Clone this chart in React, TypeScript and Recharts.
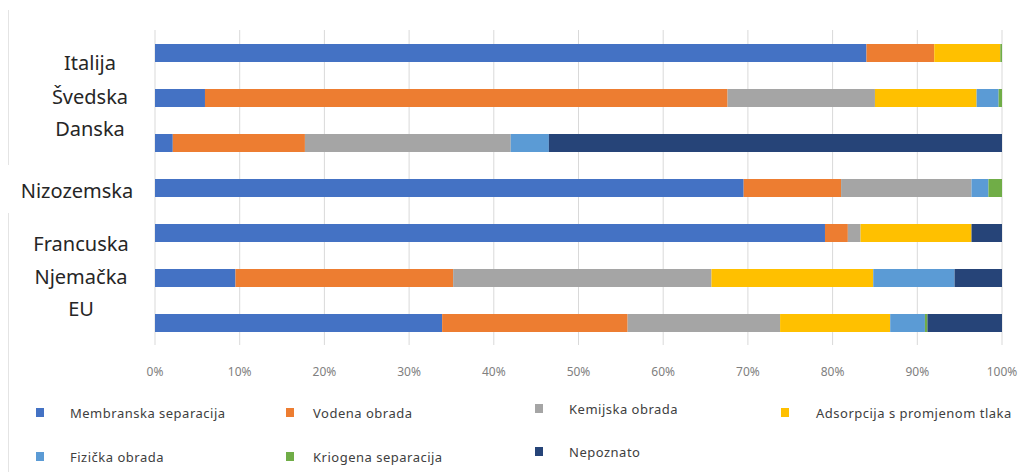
import { BarChart, Bar, XAxis, YAxis, CartesianGrid } from "recharts";

const countries = ["Italija", "Švedska", "Danska", "Nizozemska", "Francuska", "Njemačka", "EU"];

const membranska = [84.0, 5.9, 2.1, 69.5, 79.1, 9.5, 33.9];
const vodena = [8.0, 61.7, 15.6, 11.5, 2.7, 25.7, 21.9];
const kemijska = [0, 17.4, 24.3, 15.4, 1.5, 30.5, 18.0];
const adsorpcija = [7.8, 12.0, 0, 0, 13.1, 19.1, 13.0];
const fizicka = [0, 2.6, 4.5, 2.0, 0, 9.6, 4.1];
const kriogena = [0.2, 0.4, 0, 1.6, 0, 0, 0.3];
const nepoznato = [0, 0, 53.5, 0, 3.6, 5.6, 8.8];

const xTicks = [0, 10, 20, 30, 40, 50, 60, 70, 80, 90, 100];

const series = [
  { key: "membranska", name: "Membranska separacija", values: membranska, color: "#4472C4" },
  { key: "vodena", name: "Vodena obrada", values: vodena, color: "#ED7D31" },
  { key: "kemijska", name: "Kemijska obrada", values: kemijska, color: "#A5A5A5" },
  { key: "adsorpcija", name: "Adsorpcija s promjenom tlaka", values: adsorpcija, color: "#FFC000" },
  { key: "fizicka", name: "Fizička obrada", values: fizicka, color: "#5B9BD5" },
  { key: "kriogena", name: "Kriogena separacija", values: kriogena, color: "#70AD47" },
  { key: "nepoznato", name: "Nepoznato", values: nepoznato, color: "#264478" },
];

const data = countries.map((name, i) => {
  const row: Record<string, string | number> = { name };
  series.forEach((s) => (row[s.key] = s.values[i]));
  return row;
});

// the country labels in the source sit a bit off their bars
const labelX = [90, 90, 90, 77, 81, 81, 81];
const labelDy = [10, -1, -14, 3, 11, -1, -14];

// legend slots: marker x, text x, row y
const legendPos = [
  { mx: 36, tx: 70, y: 413 },
  { mx: 286, tx: 313, y: 413 },
  { mx: 535, tx: 569, y: 409 },
  { mx: 781, tx: 816, y: 413 },
  { mx: 36, tx: 70, y: 457 },
  { mx: 286, tx: 313, y: 457 },
  { mx: 535, tx: 569, y: 452 },
];

const CountryTick = ({ y, payload, index }: any) => (
  <text
    x={labelX[index]}
    y={y + labelDy[index]}
    textAnchor="middle"
    dominantBaseline="central"
    fontSize={20}
    fontFamily="Noto Sans"
    fill="#262626"
  >
    {payload.value}
  </text>
);

export default function App() {
  return (
    <div
      style={{
        position: "absolute",
        left: 0,
        top: 0,
        width: 1035,
        height: 472,
        background: "#fff",
        fontFamily: "Noto Sans",
      }}
    >
      <div style={{ position: "absolute", left: 8, top: 10, width: 1, height: 155, background: "#e4e4e4" }} />
      <div style={{ position: "absolute", left: 8, top: 213, width: 1, height: 259, background: "#e4e4e4" }} />
      <BarChart
        layout="vertical"
        width={1035}
        height={385}
        data={data}
        margin={{ top: 30, right: 33, bottom: 0, left: 0 }}
        barSize={18}
      >
        <CartesianGrid horizontal={false} stroke="#d9d9d9" />
        <XAxis
          type="number"
          domain={[0, 100]}
          ticks={xTicks}
          tickFormatter={(v) => `${v}%`}
          axisLine={false}
          tickLine={false}
          tickMargin={16}
          height={40}
          tick={{ fontSize: 12, fill: "#808080", fontFamily: "Noto Sans" }}
        />
        <YAxis
          type="category"
          dataKey="name"
          width={155}
          axisLine={false}
          tickLine={false}
          tick={<CountryTick />}
        />
        {series.map((s) => (
          <Bar key={s.key} dataKey={s.key} name={s.name} stackId="a" fill={s.color} isAnimationActive={false} />
        ))}
      </BarChart>
      {series.map((s, i) => (
        <div key={s.key}>
          <div
            style={{
              position: "absolute",
              left: legendPos[i].mx,
              top: legendPos[i].y - 5,
              width: 8,
              height: 9,
              background: s.color,
            }}
          />
          <div
            style={{
              position: "absolute",
              left: legendPos[i].tx,
              top: legendPos[i].y - 9,
              fontSize: 13,
              letterSpacing: 0.5,
              lineHeight: "18px",
              color: "#404040",
              whiteSpace: "nowrap",
            }}
          >
            {s.name}
          </div>
        </div>
      ))}
    </div>
  );
}
